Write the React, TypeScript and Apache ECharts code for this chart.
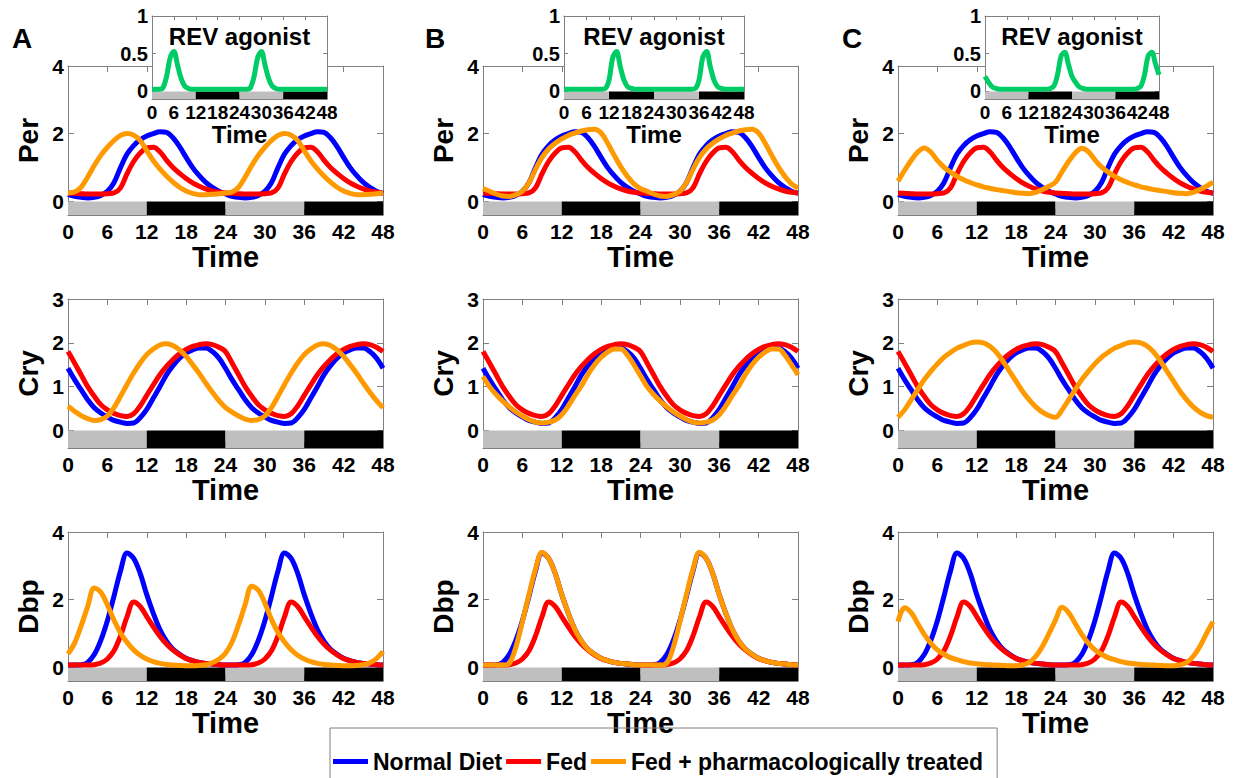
import React, { useEffect, useRef } from "react";
import * as echarts from "echarts";

// ---- time grid (hours) ----
const hours = [0,1,2,3,4,5,6,7,8,9,10,11,12,13,14,15,16,17,18,19,20,21,22,23,24,25,26,27,28,29,30,31,32,33,34,35,36,37,38,39,40,41,42,43,44,45,46,47,48];

// ---- Per ----
const normalPer = [0.2,0.15,0.12,0.1,0.12,0.18,0.3,0.55,1.0,1.4,1.65,1.82,1.93,2.0,2.06,2.04,1.88,1.62,1.3,1.0,0.76,0.56,0.42,0.3,
  0.22,0.15,0.12,0.1,0.12,0.18,0.3,0.55,1.0,1.4,1.65,1.82,1.93,2.0,2.06,2.04,1.88,1.62,1.3,1.0,0.76,0.56,0.42,0.3,0.24];
const fedPer = [0.25,0.24,0.23,0.22,0.22,0.22,0.23,0.25,0.4,0.82,1.18,1.43,1.58,1.6,1.47,1.22,1.0,0.83,0.68,0.55,0.45,0.37,0.31,0.27,
  0.25,0.24,0.23,0.22,0.22,0.22,0.23,0.25,0.4,0.82,1.18,1.43,1.58,1.6,1.47,1.22,1.0,0.83,0.68,0.55,0.45,0.37,0.31,0.27,0.25];
const treatedPerA = [0.25,0.28,0.42,0.72,1.06,1.36,1.6,1.8,1.95,2.01,1.96,1.8,1.5,1.2,0.96,0.75,0.57,0.42,0.31,0.24,0.2,0.2,0.21,0.23,
  0.25,0.28,0.42,0.72,1.06,1.36,1.6,1.8,1.95,2.01,1.96,1.8,1.5,1.2,0.96,0.75,0.57,0.42,0.31,0.24,0.2,0.2,0.21,0.23,0.25];
const treatedPerB = [0.38,0.3,0.22,0.16,0.15,0.2,0.3,0.55,0.95,1.3,1.55,1.72,1.85,1.95,2.02,2.08,2.12,2.13,2.02,1.72,1.36,1.02,0.74,0.52,
  0.38,0.3,0.22,0.16,0.15,0.2,0.3,0.55,0.95,1.3,1.55,1.72,1.85,1.95,2.02,2.08,2.12,2.13,2.02,1.72,1.36,1.02,0.74,0.52,0.4];
const treatedPerC = [0.6,0.92,1.21,1.46,1.58,1.46,1.21,1.01,0.87,0.74,0.64,0.56,0.49,0.43,0.39,0.35,0.32,0.29,0.26,0.24,0.23,0.27,0.35,0.45,
  0.57,0.88,1.18,1.43,1.57,1.47,1.23,1.02,0.87,0.74,0.64,0.56,0.49,0.43,0.39,0.35,0.32,0.29,0.26,0.24,0.23,0.27,0.35,0.45,0.57];

// ---- Cry ----
const normalCry = [1.42,1.16,0.93,0.7,0.52,0.4,0.31,0.23,0.19,0.16,0.17,0.29,0.48,0.74,1.0,1.27,1.48,1.65,1.77,1.84,1.88,1.88,1.8,1.65,
  1.42,1.16,0.93,0.7,0.52,0.4,0.31,0.23,0.19,0.16,0.17,0.29,0.48,0.74,1.0,1.27,1.48,1.65,1.77,1.84,1.88,1.88,1.8,1.65,1.42];
const fedCry = [1.8,1.54,1.27,1.0,0.78,0.59,0.47,0.39,0.34,0.32,0.38,0.56,0.8,1.04,1.27,1.46,1.62,1.75,1.85,1.92,1.96,1.98,1.96,1.9,
  1.8,1.54,1.27,1.0,0.78,0.59,0.47,0.39,0.34,0.32,0.38,0.56,0.8,1.04,1.27,1.46,1.62,1.75,1.85,1.92,1.96,1.98,1.96,1.9,1.8];
const treatedCryA = [0.55,0.44,0.34,0.27,0.23,0.25,0.33,0.52,0.78,1.05,1.31,1.54,1.73,1.86,1.95,1.98,1.94,1.84,1.69,1.5,1.3,1.08,0.87,0.68,
  0.52,0.42,0.33,0.26,0.23,0.25,0.33,0.52,0.78,1.05,1.31,1.54,1.73,1.86,1.95,1.98,1.94,1.84,1.69,1.5,1.3,1.08,0.87,0.68,0.52];
const treatedCryB = [1.23,1.0,0.82,0.67,0.54,0.42,0.33,0.25,0.19,0.17,0.19,0.24,0.36,0.56,0.8,1.02,1.28,1.5,1.67,1.79,1.86,1.86,1.72,1.5,
  1.25,1.0,0.82,0.67,0.54,0.42,0.33,0.25,0.19,0.17,0.19,0.24,0.36,0.56,0.8,1.02,1.28,1.5,1.67,1.79,1.86,1.86,1.72,1.5,1.27];
const treatedCryC = [0.3,0.47,0.7,0.93,1.16,1.35,1.52,1.67,1.78,1.88,1.94,2.0,2.02,2.0,1.92,1.78,1.58,1.35,1.12,0.89,0.7,0.54,0.42,0.34,
  0.3,0.47,0.7,0.93,1.16,1.35,1.52,1.67,1.78,1.88,1.94,2.0,2.02,2.0,1.92,1.78,1.58,1.35,1.12,0.89,0.7,0.54,0.42,0.34,0.3];

// ---- Dbp ----
const normalDbp = [0.07,0.07,0.08,0.15,0.38,0.8,1.38,2.1,2.85,3.38,3.22,2.78,2.15,1.6,1.12,0.78,0.54,0.39,0.27,0.2,0.15,0.12,0.1,0.08,
  0.07,0.07,0.08,0.15,0.38,0.8,1.38,2.1,2.85,3.38,3.22,2.78,2.15,1.6,1.12,0.78,0.54,0.39,0.27,0.2,0.15,0.12,0.1,0.08,0.07];
const fedDbp = [0.07,0.07,0.07,0.07,0.08,0.13,0.25,0.49,0.93,1.5,1.93,1.8,1.5,1.2,0.92,0.69,0.51,0.37,0.26,0.2,0.15,0.12,0.1,0.08,
  0.07,0.07,0.07,0.07,0.08,0.13,0.25,0.49,0.93,1.5,1.93,1.8,1.5,1.2,0.92,0.69,0.51,0.37,0.26,0.2,0.15,0.12,0.1,0.08,0.07];
const treatedDbpA = [0.4,0.72,1.23,1.8,2.35,2.22,1.85,1.4,1.02,0.74,0.52,0.36,0.25,0.17,0.12,0.09,0.07,0.06,0.05,0.05,0.06,0.08,0.14,0.24,
  0.42,0.75,1.27,1.86,2.4,2.28,1.9,1.42,1.03,0.75,0.52,0.36,0.25,0.17,0.12,0.09,0.07,0.06,0.05,0.05,0.06,0.08,0.14,0.26,0.47];
const treatedDbpB = [0.07,0.07,0.07,0.07,0.12,0.6,1.35,2.15,2.9,3.4,3.22,2.78,2.15,1.6,1.12,0.78,0.54,0.39,0.27,0.2,0.15,0.12,0.1,0.08,
  0.07,0.07,0.07,0.07,0.12,0.6,1.35,2.15,2.9,3.4,3.22,2.78,2.15,1.6,1.12,0.78,0.54,0.39,0.27,0.2,0.15,0.12,0.1,0.08,0.07];
const treatedDbpC = [1.35,1.76,1.62,1.3,0.98,0.72,0.52,0.39,0.29,0.23,0.17,0.13,0.11,0.09,0.08,0.07,0.06,0.05,0.05,0.08,0.15,0.33,0.62,1.0,
  1.4,1.78,1.62,1.3,0.98,0.72,0.52,0.39,0.29,0.23,0.17,0.13,0.11,0.09,0.08,0.07,0.06,0.05,0.05,0.08,0.15,0.33,0.62,1.0,1.35];

// ---- REV agonist (insets) ----
const revA = [0.03,0.03,0.03,0.05,0.2,0.45,0.53,0.35,0.17,0.07,0.04,0.03,0.03,0.03,0.03,0.03,0.03,0.03,0.03,0.03,0.03,0.03,0.03,0.03,
  0.03,0.03,0.03,0.05,0.2,0.45,0.53,0.35,0.17,0.07,0.04,0.03,0.03,0.03,0.03,0.03,0.03,0.03,0.03,0.03,0.03,0.03,0.03,0.03,0.03];
const revB = [0.03,0.03,0.03,0.03,0.03,0.03,0.03,0.03,0.03,0.03,0.03,0.04,0.15,0.45,0.53,0.33,0.15,0.06,0.04,0.03,0.03,0.03,0.03,0.03,
  0.03,0.03,0.03,0.03,0.03,0.03,0.03,0.03,0.03,0.03,0.03,0.04,0.15,0.45,0.53,0.33,0.15,0.06,0.04,0.03,0.03,0.03,0.03,0.03,0.03];
const revC = [0.2,0.12,0.06,0.04,0.03,0.03,0.03,0.03,0.03,0.03,0.03,0.03,0.03,0.03,0.03,0.03,0.03,0.03,0.04,0.07,0.22,0.47,0.52,0.36,
  0.2,0.12,0.06,0.04,0.03,0.03,0.03,0.03,0.03,0.03,0.03,0.03,0.03,0.03,0.03,0.03,0.03,0.03,0.04,0.07,0.22,0.47,0.52,0.37,0.22];

// ---- light / dark schedule ----
const lightDark = [
  { from: 0, to: 12, light: true },
  { from: 12, to: 24, light: false },
  { from: 24, to: 36, light: true },
  { from: 36, to: 48, light: false },
];

const seriesNames = ["Normal Diet", "Fed", "Fed + pharmacologically treated"];
const seriesColors = ["#0000ff", "#ff0000", "#ff9900"];
const panelLetters = ["A", "B", "C"];

const rows = [
  { name: "Per", max: 4, ticks: [0, 2, 4], normal: normalPer, fed: fedPer, treated: [treatedPerA, treatedPerB, treatedPerC] },
  { name: "Cry", max: 3, ticks: [0, 1, 2, 3], normal: normalCry, fed: fedCry, treated: [treatedCryA, treatedCryB, treatedCryC] },
  { name: "Dbp", max: 4, ticks: [0, 2, 4], normal: normalDbp, fed: fedDbp, treated: [treatedDbpA, treatedDbpB, treatedDbpC] },
];
const revSeries = [revA, revB, revC];

// ---- layout (pixels) ----
const FONT = "'Liberation Sans', Arial, Helvetica, sans-serif";
const FRAME = "#808080";
const colLefts = [68, 483, 898];
const colWidth = 315;
const rowTops = [66, 299, 532];
const rowHeight = 149;
const insetBoxes = [
  { left: 152, width: 175 },
  { left: 564, width: 180 },
  { left: 985, width: 174 },
];
const insetTop = 16;
const insetHeight = 83;

const pairs = (arr: number[]) => hours.map((h, i) => [h, arr[i]]);

function buildOption() {
  const grid: any[] = [];
  const xAxis: any[] = [];
  const yAxis: any[] = [];
  const series: any[] = [];
  const graphic: any[] = [];

  const addAxes = (gi: number, inset: boolean, yMin: number, yMax: number, yTicks: number[], yName: string) => {
    const z = inset ? 11 : 0;
    const tickLen = inset ? 4 : 6;
    const labelStyle = {
      fontSize: inset ? 19 : 21,
      fontWeight: "bold",
      color: "#000",
      fontFamily: FONT,
    };
    const common = {
      axisLine: { show: true, onZero: false, lineStyle: { color: FRAME, width: 1 } },
      splitLine: { show: false },
      z,
    };
    ["bottom", "top"].forEach((pos) => {
      xAxis.push({
        type: "value",
        gridIndex: gi,
        position: pos,
        min: 0,
        max: 48,
        interval: 6,
        ...common,
        axisTick: { show: true, inside: true, length: tickLen, lineStyle: { color: FRAME } },
        axisLabel: { show: pos === "bottom", margin: inset ? 4 : 6, ...labelStyle },
        name: pos === "bottom" ? "Time" : "",
        nameLocation: "middle",
        nameGap: inset ? 22 : 27,
        nameTextStyle: { fontSize: inset ? 24 : 29, fontWeight: "bold", color: "#000", fontFamily: FONT },
      });
    });
    ["left", "right"].forEach((pos) => {
      yAxis.push({
        type: "value",
        gridIndex: gi,
        position: pos,
        min: yMin,
        max: yMax,
        ...common,
        axisTick: { show: true, inside: true, length: tickLen, customValues: yTicks, lineStyle: { color: FRAME } },
        axisLabel: { show: pos === "left", margin: 4, customValues: yTicks, ...labelStyle, fontSize: inset ? 20 : 21 },
        name: pos === "left" ? yName : "",
        nameLocation: "middle",
        nameGap: 26,
        nameTextStyle: { fontSize: 28, fontWeight: "bold", color: "#000", fontFamily: FONT },
      });
    });
  };

  const barMarkArea = (yMin: number, z: number) => ({
    silent: true,
    z,
    data: lightDark.map((s) => [
      { coord: [s.from, yMin], itemStyle: { color: s.light ? "#bfbfbf" : "#000000" } },
      { coord: [s.to, 0] },
    ]),
  });

  // main grids
  rows.forEach((row, r) => {
    colLefts.forEach((left, c) => {
      const gi = grid.length;
      grid.push({ left, top: rowTops[r], width: colWidth, height: rowHeight, show: false });
      addAxes(gi, false, -0.4, row.max, row.ticks, row.name);
      const datasets = [row.normal, row.fed, row.treated[c]];
      datasets.forEach((d, k) => {
        series.push({
          type: "line",
          name: seriesNames[k],
          xAxisIndex: 2 * gi,
          yAxisIndex: 2 * gi,
          data: pairs(d),
          symbol: "none",
          showSymbol: false,
          smooth: 0.35,
          color: seriesColors[k],
          lineStyle: { width: 5, color: seriesColors[k] },
          z: 2 + k,
          silent: true,
          markArea: k === 0 ? barMarkArea(-0.4, 1) : undefined,
        });
      });
    });
  });

  // insets
  insetBoxes.forEach((box, c) => {
    const gi = grid.length;
    grid.push({
      left: box.left,
      top: insetTop,
      width: box.width,
      height: insetHeight,
      show: true,
      backgroundColor: "#ffffff",
      borderWidth: 0,
      z: 10,
    });
    addAxes(gi, true, -0.1, 1, [0, 0.5, 1], "");
    series.push({
      type: "line",
      name: "REV agonist",
      xAxisIndex: 2 * gi,
      yAxisIndex: 2 * gi,
      data: pairs(revSeries[c]),
      symbol: "none",
      showSymbol: false,
      smooth: 0.35,
      color: "#00cc66",
      lineStyle: { width: 5, color: "#00cc66" },
      z: 13,
      silent: true,
      markArea: barMarkArea(-0.1, 12),
    });
    graphic.push({
      type: "text",
      x: box.left + box.width / 2,
      y: 36,
      z: 100,
      style: {
        text: "REV agonist",
        fontSize: 24,
        fontWeight: "bold",
        fontFamily: FONT,
        fill: "#000",
        textAlign: "center",
        textVerticalAlign: "middle",
      },
    });
  });

  // panel letters
  const letterX = [22, 435, 852];
  panelLetters.forEach((t, i) => {
    graphic.push({
      type: "text",
      x: letterX[i],
      y: 38,
      z: 100,
      style: {
        text: t,
        fontSize: 28,
        fontWeight: "bold",
        fontFamily: FONT,
        fill: "#000",
        textAlign: "center",
        textVerticalAlign: "middle",
      },
    });
  });

  return {
    animation: false,
    backgroundColor: "#ffffff",
    textStyle: { fontFamily: FONT },
    grid,
    xAxis,
    yAxis,
    series,
    graphic,
    legend: {
      data: seriesNames,
      left: 330,
      top: 728,
      orient: "horizontal",
      icon: "rect",
      itemWidth: 35,
      itemHeight: 5,
      itemGap: 4,
      padding: [22, 14, 30, 3],
      borderColor: FRAME,
      borderWidth: 1,
      selectedMode: false,
      textStyle: { fontSize: 23, fontWeight: "bold", color: "#000", fontFamily: FONT },
    },
  };
}

export default function App() {
  const ref = useRef<HTMLDivElement>(null);
  useEffect(() => {
    if (!ref.current) return;
    const chart = echarts.init(ref.current, undefined, { renderer: "svg" });
    chart.setOption(buildOption() as any);
    return () => chart.dispose();
  }, []);
  return (
    <div
      ref={ref}
      style={{ position: "absolute", left: 0, top: 0, width: 1243, height: 778, background: "#fff" }}
    />
  );
}
